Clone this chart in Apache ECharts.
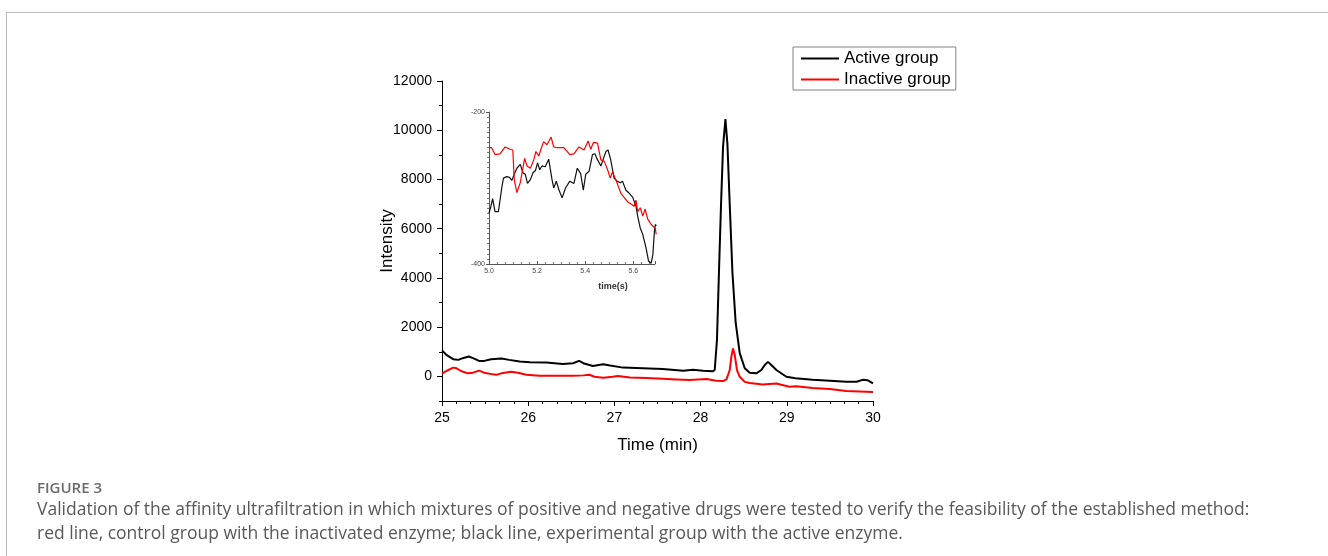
<!DOCTYPE html>
<html>
<head>
<meta charset="utf-8">
<title>Figure 3</title>
<script src="https://cdn.jsdelivr.net/npm/echarts@6/dist/echarts.min.js"></script>
<style>
	html, body {margin:0; padding:0; background:#fff;}
	#frame {position:absolute; left:6px; top:12px; width:1322px; height:544px; border-top:1px solid #bdbdbd; border-left:1px solid #bdbdbd;}
	#main {position:absolute; left:0; top:0; width:1328px; height:556px;}
</style>
</head>
<body>
<div id="frame"></div>
<div id="main"></div>
<script>
	// main chromatogram, 25-30 min
	var activeTime = [25.00, 25.05, 25.13, 25.19, 25.24, 25.31, 25.36, 25.43, 25.49, 25.57, 25.69, 25.78, 25.90, 26.02, 26.21, 26.40, 26.52, 26.59, 26.64, 26.75, 26.87, 26.95, 27.10, 27.33, 27.56, 27.80, 27.91, 28.03, 28.14, 28.164, 28.19, 28.213, 28.237, 28.26, 28.288, 28.311, 28.338, 28.369, 28.407, 28.454, 28.512, 28.57, 28.647, 28.705, 28.744, 28.782, 28.82, 28.879, 28.995, 29.10, 29.30, 29.50, 29.69, 29.81, 29.88, 29.94, 30.00];
	var activeValue = [1055, 877, 699, 671, 740, 808, 740, 630, 630, 699, 726, 671, 603, 575, 562, 507, 534, 630, 534, 425, 493, 438, 356, 329, 301, 233, 274, 233, 205, 259, 1494, 4238, 6979, 9312, 10450, 9448, 6979, 4238, 2181, 946, 329, 150, 123, 259, 465, 590, 465, 260, -16, -80, -140, -178, -215, -219, -140, -160, -288];
	var inactiveTime = [25.00, 25.05, 25.13, 25.17, 25.22, 25.30, 25.36, 25.43, 25.49, 25.59, 25.63, 25.69, 25.80, 25.88, 25.98, 26.13, 26.33, 26.52, 26.64, 26.71, 26.77, 26.87, 26.98, 27.04, 27.18, 27.37, 27.56, 27.72, 27.87, 27.97, 28.07, 28.18, 28.26, 28.30, 28.338, 28.357, 28.376, 28.396, 28.422, 28.454, 28.512, 28.57, 28.72, 28.879, 29.03, 29.11, 29.30, 29.50, 29.69, 30.00];
	var inactiveValue = [110, 219, 356, 329, 219, 123, 151, 233, 151, 82, 68, 123, 192, 151, 68, 27, 27, 27, 41, 68, -14, -55, -14, 14, -41, -68, -96, -123, -151, -123, -110, -178, -192, -120, 259, 807, 1130, 877, 259, -16, -222, -270, -330, -290, -420, -400, -470, -515, -590, -632];

	// inset, 5.0-5.7 s
	var insetActiveTime = [5.000, 5.008, 5.015, 5.025, 5.039, 5.053, 5.060, 5.074, 5.085, 5.095, 5.105, 5.116, 5.130, 5.141, 5.151, 5.160, 5.172, 5.183, 5.193, 5.202, 5.211, 5.220, 5.234, 5.248, 5.262, 5.269, 5.280, 5.290, 5.304, 5.318, 5.336, 5.353, 5.367, 5.381, 5.392, 5.402, 5.416, 5.430, 5.440, 5.448, 5.465, 5.476, 5.486, 5.495, 5.506, 5.520, 5.532, 5.546, 5.555, 5.569, 5.583, 5.597, 5.604, 5.611, 5.618, 5.629, 5.639, 5.653, 5.663, 5.674, 5.681, 5.688, 5.692, 5.695];
	var insetActiveValue = [-333, -324, -314, -331, -331, -300, -287, -285, -286, -290, -282, -274, -269, -280, -282, -294, -289, -280, -277, -267, -276, -271, -272, -262, -289, -300, -291, -302, -313, -300, -291, -294, -274, -281, -303, -282, -278, -256, -255, -261, -271, -261, -252, -250, -263, -287, -291, -293, -291, -303, -307, -312, -311, -324, -337, -353, -361, -379, -396, -399, -388, -355, -348, -350];
	var insetInactiveTime = [5.000, 5.011, 5.025, 5.046, 5.067, 5.088, 5.099, 5.105, 5.116, 5.130, 5.148, 5.158, 5.172, 5.186, 5.195, 5.207, 5.216, 5.227, 5.241, 5.258, 5.269, 5.283, 5.311, 5.336, 5.353, 5.374, 5.395, 5.412, 5.423, 5.434, 5.451, 5.465, 5.479, 5.493, 5.504, 5.513, 5.527, 5.548, 5.576, 5.604, 5.611, 5.618, 5.629, 5.639, 5.649, 5.660, 5.674, 5.691, 5.695];
	var insetInactiveValue = [-247, -247, -256, -255, -246, -249, -250, -289, -306, -293, -261, -271, -274, -263, -252, -258, -249, -239, -243, -233, -246, -247, -247, -256, -255, -246, -250, -238, -249, -240, -241, -263, -265, -276, -287, -279, -289, -307, -318, -324, -316, -331, -326, -337, -328, -341, -348, -353, -361];

	var yMajor = [0, 2000, 4000, 6000, 8000, 10000, 12000];
	var yMinor = [-1000, 1000, 3000, 5000, 7000, 9000, 11000];

	function pairs(xs, ys) {
		var out = [];
		for (var i = 0; i < xs.length; i++) {
			out.push([xs[i], ys[i]]);
		}
		return out;
	}
	function plain(v) {
		return String(v);
	}

	var font = '"Liberation Sans", Arial, sans-serif';
	var myChart = echarts.init(document.getElementById('main'));
	var option = {
		animation: false,
		textStyle: {fontFamily: font},
		title: [
			{
				text: 'FIGURE 3',
				left: 37,
				top: 481,
				padding: 0,
				textStyle: {fontFamily: '"Open Sans", sans-serif', fontSize: 15, fontWeight: 600, color: '#6b6b6b'}
			},
			{
				text: 'Validation of the affinity ultrafiltration in which mixtures of positive and negative drugs were tested to verify the feasibility of the established method:\nred line, control group with the inactivated enzyme; black line, experimental group with the active enzyme.',
				left: 37,
				top: 498,
				padding: 0,
				textStyle: {fontFamily: '"Open Sans", sans-serif', fontSize: 17.5, fontWeight: 'normal', lineHeight: 24, color: '#595959'}
			}
		],
		legend: {
			data: ['Active group', 'Inactive group'],
			orient: 'vertical',
			left: 793,
			top: 47,
			padding: [2, 5, 1, 8],
			itemGap: 2,
			itemWidth: 38,
			itemHeight: 2,
			icon: 'rect',
			borderColor: '#808080',
			borderWidth: 1,
			textStyle: {fontSize: 17, lineHeight: 19, color: '#000', fontFamily: font}
		},
		grid: [
			{left: 442, top: 81, width: 431, height: 320},
			{left: 489, top: 112, width: 166, height: 152}
		],
		xAxis: [
			{
				type: 'value',
				gridIndex: 0,
				min: 25,
				max: 30,
				interval: 1,
				name: 'Time (min)',
				nameLocation: 'middle',
				nameGap: 36,
				nameTextStyle: {fontSize: 17, color: '#000'},
				axisLine: {onZero: false, lineStyle: {color: '#000', width: 1}},
				axisTick: {length: 5, lineStyle: {color: '#000'}},
				minorTick: {show: true, splitNumber: 6, length: 3, lineStyle: {color: '#000'}},
				axisLabel: {fontSize: 14, color: '#000', margin: 10, formatter: plain},
				splitLine: {show: false}
			},
			{
				type: 'value',
				gridIndex: 1,
				min: 5.0,
				max: 5.69,
				interval: 0.2,
				name: 'time(s)',
				nameLocation: 'middle',
				nameGap: 18,
				nameMoveOverlap: false,
				nameTextStyle: {fontSize: 9, fontWeight: 'bold', color: '#333', padding: [0, 0, 0, 82]},
				axisLine: {onZero: false, lineStyle: {color: '#555', width: 1}},
				axisTick: {inside: true, length: 3, lineStyle: {color: '#555'}},
				minorTick: {show: true, splitNumber: 6, length: 2, lineStyle: {color: '#777'}},
				axisLabel: {fontSize: 7, color: '#444', margin: 4, showMaxLabel: false,
					formatter: function (v) { return v.toFixed(1); }},
				splitLine: {show: false}
			}
		],
		yAxis: [
			{
				type: 'value',
				gridIndex: 0,
				min: -1000,
				max: 12000,
				name: 'Intensity',
				nameLocation: 'middle',
				nameGap: 46,
				nameMoveOverlap: false,
				nameTextStyle: {fontSize: 17, color: '#000'},
				axisLine: {show: true, onZero: false, lineStyle: {color: '#000', width: 1}},
				axisTick: {show: true, length: 5, customValues: yMajor, lineStyle: {color: '#000'}},
				axisLabel: {fontSize: 14, color: '#000', margin: 10, customValues: yMajor, formatter: plain},
				splitLine: {show: false}
			},
			{
				// minor ticks only, laid over the first y axis
				type: 'value',
				gridIndex: 0,
				position: 'left',
				min: -1000,
				max: 12000,
				axisLine: {show: false, onZero: false},
				axisTick: {show: true, length: 3, customValues: yMinor, lineStyle: {color: '#000'}},
				axisLabel: {show: false},
				splitLine: {show: false}
			},
			{
				type: 'value',
				gridIndex: 1,
				min: -400,
				max: -200,
				interval: 200,
				axisLine: {show: true, onZero: false, lineStyle: {color: '#555', width: 1}},
				axisTick: {show: true, length: 3, lineStyle: {color: '#555'}},
				minorTick: {show: true, splitNumber: 30, length: 2, lineStyle: {color: '#777'}},
				axisLabel: {fontSize: 7, color: '#444', margin: 4, formatter: plain},
				splitLine: {show: false}
			}
		],
		series: [
			{
				name: 'Active group',
				type: 'line',
				xAxisIndex: 0,
				yAxisIndex: 0,
				showSymbol: false,
				lineStyle: {color: '#000', width: 2},
				itemStyle: {color: '#000'},
				data: pairs(activeTime, activeValue)
			},
			{
				name: 'Inactive group',
				type: 'line',
				xAxisIndex: 0,
				yAxisIndex: 0,
				showSymbol: false,
				lineStyle: {color: '#ff0000', width: 2},
				itemStyle: {color: '#ff0000'},
				data: pairs(inactiveTime, inactiveValue)
			},
			{
				name: 'Active group',
				type: 'line',
				xAxisIndex: 1,
				yAxisIndex: 2,
				showSymbol: false,
				lineStyle: {color: '#111', width: 1.2},
				itemStyle: {color: '#000'},
				data: pairs(insetActiveTime, insetActiveValue)
			},
			{
				name: 'Inactive group',
				type: 'line',
				xAxisIndex: 1,
				yAxisIndex: 2,
				showSymbol: false,
				lineStyle: {color: '#ff0000', width: 1.2},
				itemStyle: {color: '#ff0000'},
				data: pairs(insetInactiveTime, insetInactiveValue)
			}
		]
	};
	myChart.setOption(option);
</script>
</body>
</html>
